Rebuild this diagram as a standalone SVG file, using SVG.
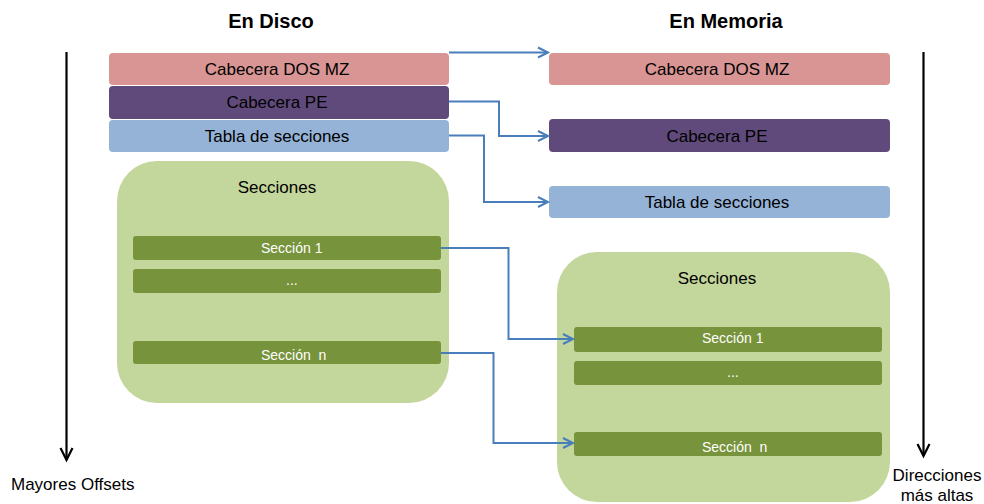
<svg xmlns="http://www.w3.org/2000/svg" width="984" height="504" viewBox="0 0 984 504">
  <style>
    text { font-family: "Liberation Sans", Arial, sans-serif; fill: #000; }
    .title { font-size: 20px; font-weight: bold; text-anchor: middle; }
    .lbl { font-size: 17px; text-anchor: middle; }
    .side { font-size: 17px; }
    .bar-t { font-size: 14px; fill: #fff; white-space: pre; }
    .dos { fill: #D99594; }
    .pe { fill: #604A7B; }
    .tab { fill: #95B3D7; }
    .sec { fill: #C3D69B; }
    .bar { fill: #77933C; }
    .conn { fill: none; stroke: #4A7EBB; stroke-width: 2; }
    .axis { fill: none; stroke: #000; stroke-width: 2.2; }
  </style>
  <defs>
    <marker id="blueHead" markerUnits="userSpaceOnUse" markerWidth="12" markerHeight="12" refX="10" refY="5" orient="auto" overflow="visible">
      <path d="M0,0 L10,5 L0,10" fill="none" stroke="#4A7EBB" stroke-width="2"/>
    </marker>
    <marker id="blackHead" markerUnits="userSpaceOnUse" markerWidth="14" markerHeight="14" refX="12" refY="6" orient="auto" overflow="visible">
      <path d="M0,0 L12,6 L0,12" fill="none" stroke="#000" stroke-width="2.2"/>
    </marker>
  </defs>

  <!-- column titles -->
  <text class="title" x="271" y="28">En Disco</text>
  <text class="title" x="726" y="28">En Memoria</text>

  <!-- on-disk layout -->
  <g id="disk-dos">
    <rect class="dos" x="109" y="53" width="340" height="32" rx="4"/>
    <text class="lbl" x="277" y="75">Cabecera DOS MZ</text>
  </g>
  <g id="disk-pe">
    <rect class="pe" x="109" y="86" width="340" height="33" rx="4"/>
    <text class="lbl" x="277" y="108">Cabecera PE</text>
  </g>
  <g id="disk-tabla">
    <rect class="tab" x="109" y="120" width="340" height="32" rx="4"/>
    <text class="lbl" x="277" y="142">Tabla de secciones</text>
  </g>
  <g id="disk-secciones">
    <rect class="sec" x="117" y="161" width="332" height="242" rx="40"/>
    <text class="lbl" x="277" y="193">Secciones</text>
  </g>
  <g id="disk-sec1">
    <rect class="bar" x="133" y="236" width="308" height="24" rx="3"/>
    <text class="bar-t" x="261" y="253">Sección 1</text>
  </g>
  <g id="disk-dots">
    <rect class="bar" x="133" y="269" width="308" height="24" rx="3"/>
    <text class="bar-t" x="286" y="285">...</text>
  </g>
  <g id="disk-secn">
    <rect class="bar" x="133" y="341" width="308" height="23" rx="3"/>
    <text class="bar-t" x="261" y="360">Sección  n</text>
  </g>

  <!-- in-memory layout -->
  <g id="mem-dos">
    <rect class="dos" x="549" y="53" width="341" height="32" rx="4"/>
    <text class="lbl" x="717" y="75">Cabecera DOS MZ</text>
  </g>
  <g id="mem-pe">
    <rect class="pe" x="549" y="119" width="341" height="33" rx="4"/>
    <text class="lbl" x="717" y="141.5">Cabecera PE</text>
  </g>
  <g id="mem-tabla">
    <rect class="tab" x="549" y="186" width="341" height="32" rx="4"/>
    <text class="lbl" x="717" y="208">Tabla de secciones</text>
  </g>
  <g id="mem-secciones">
    <rect class="sec" x="557" y="252" width="333" height="250" rx="40"/>
    <text class="lbl" x="717" y="284">Secciones</text>
  </g>
  <g id="mem-sec1">
    <rect class="bar" x="574" y="327" width="308" height="25" rx="3"/>
    <text class="bar-t" x="702" y="343">Sección 1</text>
  </g>
  <g id="mem-dots">
    <rect class="bar" x="574" y="361" width="308" height="24" rx="3"/>
    <text class="bar-t" x="727" y="377">...</text>
  </g>
  <g id="mem-secn">
    <rect class="bar" x="574" y="432" width="308" height="24" rx="3"/>
    <text class="bar-t" x="702" y="452">Sección  n</text>
  </g>

  <!-- mapping connectors and axes -->
  <g id="connectors">
    <path class="conn" d="M449,52.5 H548" marker-end="url(#blueHead)"/>
    <path class="conn" d="M449,101.5 H499 V136 H548" marker-end="url(#blueHead)"/>
    <path class="conn" d="M449,135.5 H484 V202 H548" marker-end="url(#blueHead)"/>
    <path class="conn" d="M441,248 H508.5 V339 H573" marker-end="url(#blueHead)"/>
    <path class="conn" d="M441,353 H493.5 V443 H573" marker-end="url(#blueHead)"/>
    <path class="axis" d="M66.5,52 V460" marker-end="url(#blackHead)"/>
    <path class="axis" d="M923.5,52 V456" marker-end="url(#blackHead)"/>
  </g>

  <!-- axis captions -->
  <text class="side" x="11" y="490">Mayores Offsets</text>
  <text class="side" x="937" y="481" text-anchor="middle">Direcciones</text>
  <text class="side" x="937" y="501" text-anchor="middle">más altas</text>
</svg>
